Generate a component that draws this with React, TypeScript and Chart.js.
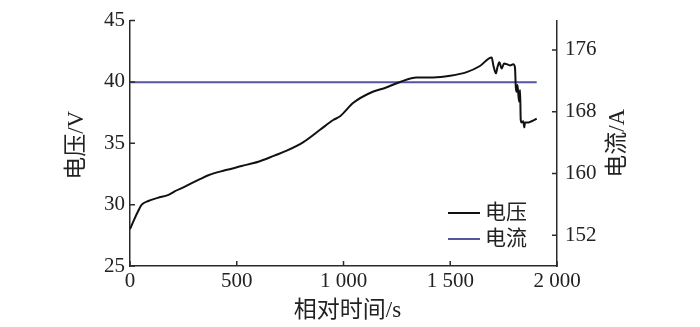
import React, { useEffect, useRef } from "react";
import { Chart, registerables } from "chart.js";

Chart.register(...registerables);

const timeS = [0, 20, 39, 55, 86, 130, 180, 211, 250, 289, 330, 367, 445, 523, 601, 676, 734, 812, 890, 952, 984, 1046, 1124, 1200, 1265, 1343, 1421, 1499, 1577, 1639, 1694, 1702, 1714, 1721, 1730, 1741, 1752, 1764, 1780, 1795, 1803, 1807, 1811, 1815, 1822, 1827, 1830, 1834, 1842, 1847, 1850, 1866, 1881, 1905];
const voltageV = [28.0, 28.8, 29.5, 30.0, 30.3, 30.55, 30.8, 31.1, 31.4, 31.75, 32.1, 32.4, 32.8, 33.15, 33.5, 34.0, 34.4, 35.1, 36.1, 36.9, 37.2, 38.3, 39.1, 39.55, 40.0, 40.36, 40.36, 40.5, 40.8, 41.3, 42.0, 41.35, 40.7, 41.2, 41.6, 41.1, 41.5, 41.45, 41.35, 41.45, 41.2, 39.6, 39.2, 39.75, 38.4, 39.35, 36.95, 36.7, 36.8, 36.3, 36.7, 36.7, 36.8, 37.0];
const currentTime = [0, 1905];
const currentA = [171.8, 171.8];
const rightTicks = [152, 160, 168, 176];
const seriesLabels = ["电压", "电流"];
const xTitle = "相对时间/s";
const yTitle = "电压/V";
const y1Title = "电流/A";

const SERIF = "'Liberation Serif', 'Noto Sans CJK SC', serif";
const TEXT = "#222";
const AXIS = "#2a2a2a";
const BLUE = "#55559e";

const fmt = (v: number) => {
  const s = String(Math.round(v));
  return s.length > 3 ? s.slice(0, s.length - 3) + " " + s.slice(-3) : s;
};

const decorPlugin = {
  id: "decor",
  afterDraw(chart: any) {
    const ctx = chart.ctx;
    const area = chart.chartArea;
    const { x, y, y1 } = chart.scales;
    ctx.save();
    // inward ticks
    ctx.strokeStyle = AXIS;
    ctx.lineWidth = 1.5;
    const tl = 5;
    ctx.beginPath();
    x.ticks.forEach((t: any) => {
      const px = x.getPixelForValue(t.value);
      ctx.moveTo(px, area.bottom);
      ctx.lineTo(px, area.bottom - tl);
    });
    y.ticks.forEach((t: any) => {
      const py = y.getPixelForValue(t.value);
      ctx.moveTo(area.left, py);
      ctx.lineTo(area.left + tl, py);
    });
    y1.ticks.forEach((t: any) => {
      const py = y1.getPixelForValue(t.value);
      ctx.moveTo(area.right, py);
      ctx.lineTo(area.right - tl, py);
    });
    ctx.stroke();

    // titles
    ctx.fillStyle = TEXT;
    ctx.font = `23px ${SERIF}`;
    ctx.textAlign = "center";
    ctx.textBaseline = "middle";
    ctx.fillText(xTitle, (area.left + area.right) / 2 + 4, 311);
    ctx.save();
    ctx.translate(77, (area.top + area.bottom) / 2 + 2);
    ctx.rotate(-Math.PI / 2);
    ctx.fillText(yTitle, 0, 0);
    ctx.restore();
    ctx.save();
    ctx.translate(618, (area.top + area.bottom) / 2);
    ctx.rotate(-Math.PI / 2);
    ctx.fillText(y1Title, 0, 0);
    ctx.restore();

    // legend
    const ds = chart.data.datasets;
    ctx.textAlign = "left";
    ctx.font = `21px ${SERIF}`;
    const rows = [213, 239];
    ds.forEach((d: any, i: number) => {
      ctx.strokeStyle = d.borderColor;
      ctx.lineWidth = 2;
      ctx.beginPath();
      ctx.moveTo(448, rows[i]);
      ctx.lineTo(480, rows[i]);
      ctx.stroke();
      ctx.fillStyle = TEXT;
      ctx.fillText(d.label, 485, rows[i]);
    });
    ctx.restore();
  },
};

export default function App() {
  const ref = useRef<HTMLCanvasElement>(null);
  useEffect(() => {
    document.body.style.margin = "0";
    const canvas = ref.current!;
    const tickFont = { family: SERIF, size: 21 };
    const chart = new Chart(canvas, {
      type: "line",
      data: {
        datasets: [
          {
            label: seriesLabels[0],
            data: timeS.map((t, i) => ({ x: t, y: voltageV[i] })),
            borderColor: "#111",
            borderWidth: 2,
            pointRadius: 0,
            cubicInterpolationMode: "monotone",
            yAxisID: "y",
          },
          {
            label: seriesLabels[1],
            data: currentTime.map((t, i) => ({ x: t, y: currentA[i] })),
            borderColor: BLUE,
            borderWidth: 2,
            pointRadius: 0,
            yAxisID: "y1",
          },
        ],
      },
      options: {
        animation: false,
        responsive: false,
        devicePixelRatio: 1,
        layout: { padding: { top: 16, left: 0, right: 0, bottom: 0 } },
        plugins: { legend: { display: false }, tooltip: { enabled: false } },
        scales: {
          x: {
            type: "linear",
            min: 0,
            max: 2000,
            ticks: { stepSize: 500, font: tickFont, color: TEXT, padding: 3, maxRotation: 0, callback: (v: any) => fmt(Number(v)) },
            grid: { display: false, drawTicks: false },
            border: { display: true, color: AXIS, width: 1.5 },
            afterFit: (s: any) => { s.height = 61; },
          },
          y: {
            position: "left",
            min: 25,
            max: 45,
            ticks: { stepSize: 5, font: tickFont, color: TEXT, padding: 5 },
            grid: { display: false, drawTicks: false },
            border: { display: true, color: AXIS, width: 1.5 },
            afterFit: (s: any) => { s.width = 130; },
          },
          y1: {
            position: "right",
            min: 148,
            max: 179.8,
            ticks: { font: tickFont, color: TEXT, padding: 8 },
            afterBuildTicks: (s: any) => { s.ticks = rightTicks.map((v) => ({ value: v })); },
            grid: { display: false, drawTicks: false },
            border: { display: true, color: AXIS, width: 1.5 },
            afterFit: (s: any) => { s.width = 143; },
          },
        },
      } as any,
      plugins: [decorPlugin],
    });
    return () => chart.destroy();
  }, []);
  return (
    <div style={{ width: 700, height: 327, background: "#fff" }}>
      <canvas ref={ref} width={700} height={327} />
    </div>
  );
}
